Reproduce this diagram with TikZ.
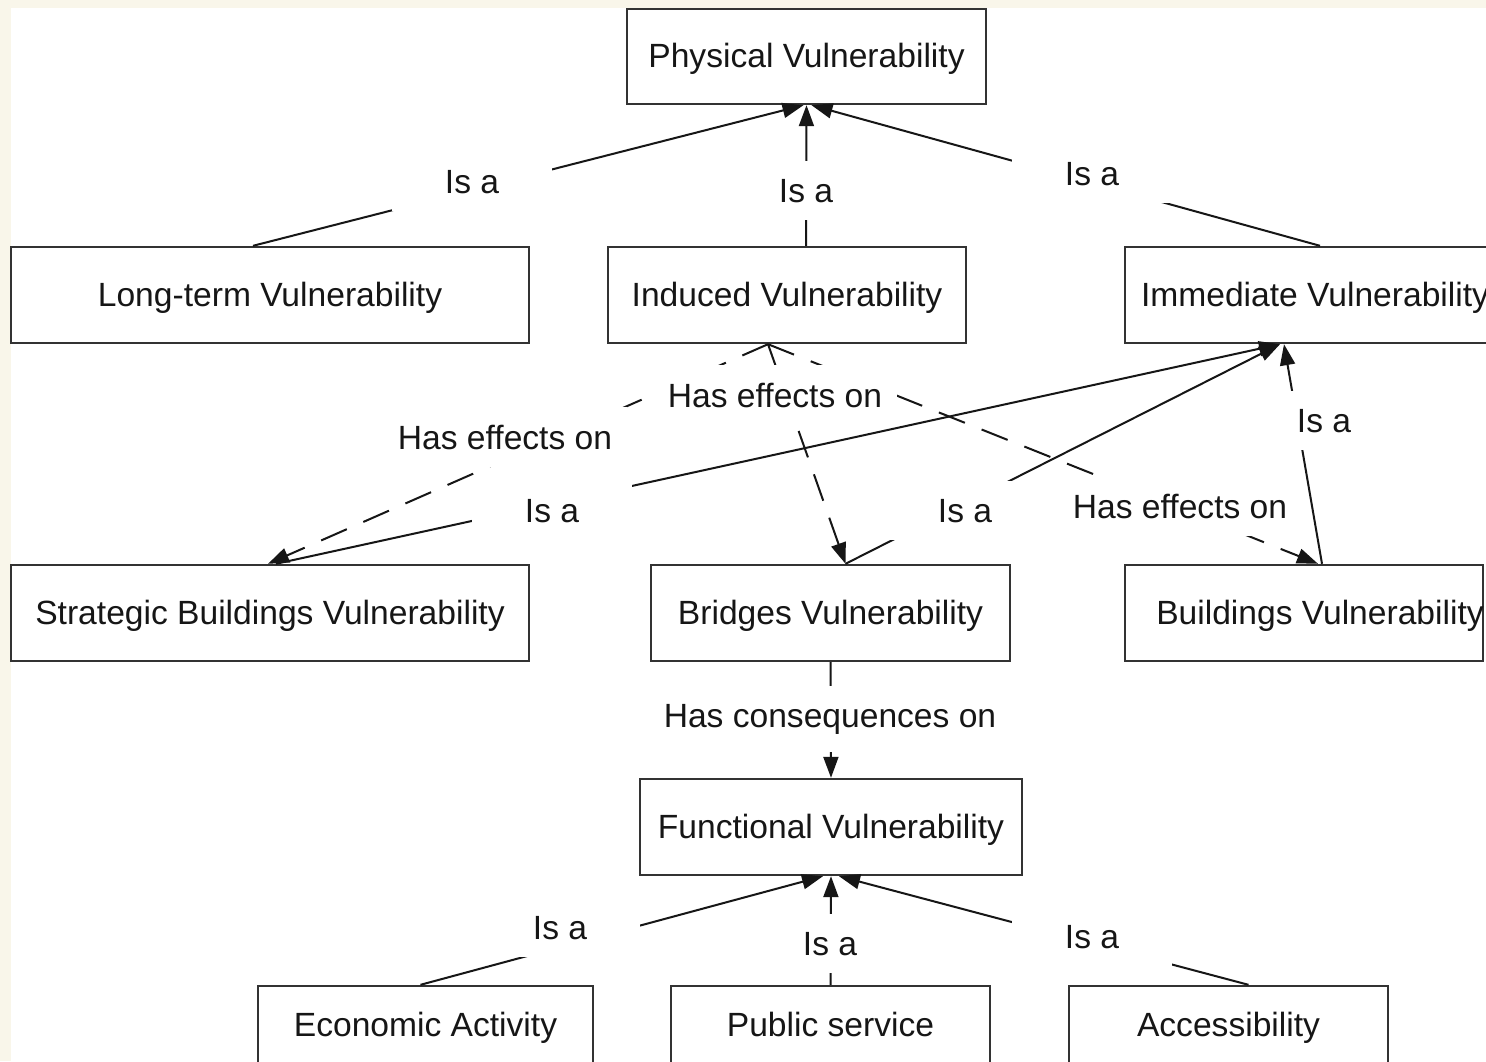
\documentclass[tikz,border=0pt]{standalone}
\usepackage{fontspec}
\setmainfont{Liberation Sans}
\usetikzlibrary{arrows.meta,calc}
\definecolor{cream}{RGB}{249,246,234}
\definecolor{ink}{RGB}{22,22,22}
\begin{document}
\begin{tikzpicture}[x=1pt,y=-1pt,
  every node/.style={font=\fontsize{33.6}{40}\selectfont, text=ink},
  box/.style={draw=black!80, line width=2.4pt, fill=white, inner sep=0pt,
              text height=24.5pt, text depth=2pt},
  link/.style={draw=ink, line width=2pt, -{Triangle[length=21pt,width=15pt]}},
  effect/.style={link, dash pattern=on 28pt off 18pt},
  rel/.style={fill=white, inner xsep=15pt, inner ysep=18pt,
              minimum width=160pt, anchor=base}
]
% page and margins
\useasboundingbox (0,0) rectangle (1486,1061);
\clip (0,0) rectangle (1486,1061);
\fill[white] (0,0) rectangle (1486,1061);
\fill[cream] (0,0) rectangle (1486,8);
\fill[cream] (0,0) rectangle (11,1061);

% concepts
\node[box, minimum width=359, minimum height=95] (phy) at (806.5,56.5) {Physical Vulnerability};
\node[box, minimum width=518, minimum height=96] (lt)  at (270,295)    {Long-term Vulnerability};
\node[box, minimum width=358, minimum height=96] (ind) at (787,295)    {Induced Vulnerability};
\node[box, minimum width=380, minimum height=96] (imm) at (1315,295)   {Immediate Vulnerability};
\node[box, minimum width=518, minimum height=96] (str) at (270,613)    {Strategic Buildings Vulnerability};
\node[box, minimum width=359, minimum height=96] (bri) at (830.5,613)  {Bridges Vulnerability};
\node[box, minimum width=358, minimum height=96] (bld) at (1304,613)   {};
\node[inner sep=0pt, text height=24.5pt, text depth=2pt] (bldtext) at (1320,613) {Buildings Vulnerability};
\node[box, minimum width=382, minimum height=96] (fun) at (831,827)    {Functional Vulnerability};
\node[box, minimum width=335, minimum height=78] (eco) at (425.5,1025) {Economic Activity};
\node[box, minimum width=319, minimum height=78] (pub) at (830.5,1025) {Public service};
\node[box, minimum width=319, minimum height=78] (acc) at (1228.5,1025) {Accessibility};

% attachment points on the box borders
\coordinate (lt-up)  at ($(lt.north)+(-17,0)$);
\coordinate (ind-up) at ($(ind.north)+(19,0)$);
\coordinate (imm-up) at ($(imm.north)+(5,0)$);
\coordinate (ind-dn) at ($(ind.south)+(-19,0)$);
\coordinate (imm-dn) at ($(imm.south)+(-35,0)$);
\coordinate (str-up) at ($(str.north)+(6,0)$);
\coordinate (str-in) at ($(str.north)+(-2,0)$);
\coordinate (bri-up) at ($(bri.north)+(15,0)$);
\coordinate (bld-up) at ($(bld.north)+(18,0)$);
\coordinate (bld-in) at ($(bld.north)+(14,0)$);
\coordinate (eco-up) at ($(eco.north)+(-5,0)$);
\coordinate (acc-up) at ($(acc.north)+(20,0)$);
\coordinate (phy-l)  at ($(phy.south)+(-3,0)$);
\coordinate (phy-r)  at ($(phy.south)+(5,0)$);
\coordinate (imm-r)  at ($(imm-dn)+(4,0)$);
\coordinate (fun-l)  at ($(fun.south)+(-8,0)$);
\coordinate (fun-r)  at ($(fun.south)+(8,0)$);

% generalisation links
\draw[link] (lt-up)  -- (phy-l);
\draw[link] (ind-up) -- (phy.south);
\draw[link] (imm-up) -- (phy-r);
\draw[link] (str-up) -- (imm-dn);
\draw[link] (bri-up) -- (imm-dn);
\draw[link] (bld-up) -- (imm-r);
\draw[link] (eco-up) -- (fun-l);
\draw[link] (pub.north) -- (fun.south);
\draw[link] (acc-up) -- (fun-r);
% effect links
\draw[effect] (ind-dn) -- (str-in);
\draw[effect] (ind-dn) -- (bri-up);
\draw[effect] (ind-dn) -- (bld-in);
% consequence link
\draw[link] (bri.south) -- (fun.north);

% relation labels
\node[rel] (r1)  at (472,193)  {Is a};
\node[rel] (r2)  at (806,202)  {Is a};
\node[rel] (r3)  at (1092,185) {Is a};
\node[rel] (r4)  at (775,407)  {Has effects on};
\node[rel] (r5)  at (505,449)  {Has effects on};
\node[rel] (r6)  at (1180,518) {Has effects on};
\node[rel] (r7)  at (552,522)  {Is a};
\node[rel] (r8)  at (965,522)  {Is a};
\node[rel] (r9)  at (1324,432) {Is a};
\node[rel] (r10) at (830,727)  {Has consequences on};
\node[rel] (r11) at (560,939)  {Is a};
\node[rel] (r12) at (830,955)  {Is a};
\node[rel] (r13) at (1092,948) {Is a};
\end{tikzpicture}
\end{document}
